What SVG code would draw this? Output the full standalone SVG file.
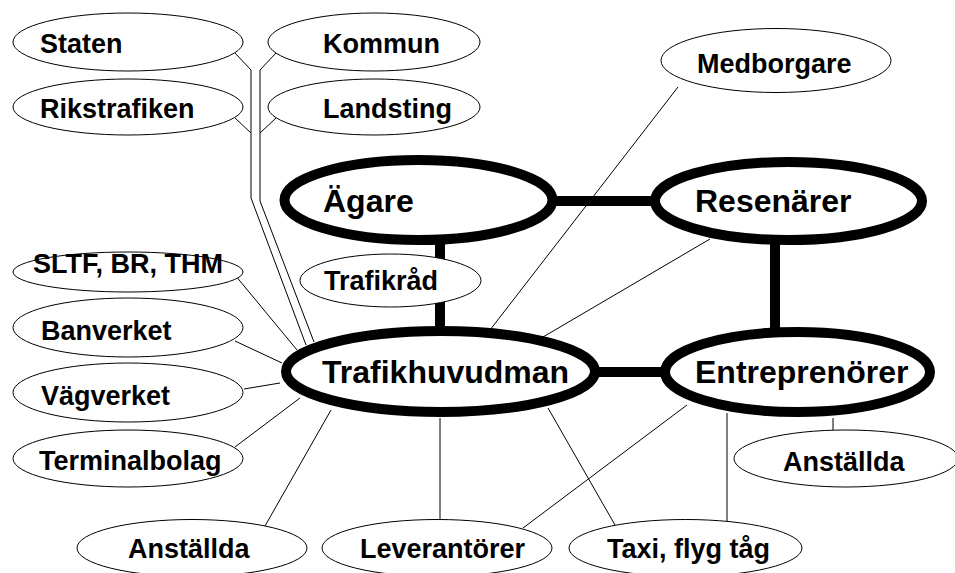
<svg xmlns="http://www.w3.org/2000/svg" width="955" height="573" viewBox="0 0 955 573">
<style>
.thin{fill:none;stroke:#000;stroke-width:1}
.thick{fill:none;stroke:#000;stroke-width:10}
.sn{fill:#fff;stroke:#000;stroke-width:1}
.mn{fill:#fff;stroke:#000;stroke-width:10}
text{font-family:"Liberation Sans",Arial,sans-serif;font-weight:bold;fill:#000}
.s{font-size:27px}
.m{font-size:32px}
</style>
<rect width="955" height="573" fill="#fff"/>
<g id="connectors">
<polyline class="thin" points="235,53 251,70 251,198 306,345"/>
<polyline class="thin" points="276,53 260,70 260,201 314,342"/>
<line class="thin" x1="235" y1="118" x2="251" y2="133"/>
<line class="thin" x1="276" y1="118" x2="260" y2="133"/>
<line class="thin" x1="235" y1="275" x2="297" y2="350"/>
<line class="thin" x1="235" y1="341" x2="282" y2="363"/>
<line class="thin" x1="244" y1="389" x2="280" y2="383"/>
<line class="thin" x1="235" y1="447" x2="300" y2="398"/>
<line class="thin" x1="265" y1="526" x2="331" y2="410"/>
<line class="thin" x1="440" y1="418" x2="440" y2="520"/>
<line class="thin" x1="548" y1="408" x2="615" y2="525"/>
<line class="thin" x1="687" y1="405" x2="523" y2="528"/>
<line class="thin" x1="727" y1="413" x2="727" y2="521"/>
<line class="thin" x1="833" y1="418" x2="833" y2="430"/>
<line class="thin" x1="678" y1="87" x2="490" y2="330"/>
<line class="thin" x1="710" y1="239" x2="543" y2="337"/>
<line class="thick" x1="552" y1="201" x2="656" y2="201"/>
<line class="thick" x1="775" y1="239" x2="775" y2="333"/>
<line class="thick" x1="440" y1="239" x2="440" y2="332"/>
<line class="thick" x1="594" y1="372" x2="666" y2="372"/>
</g>
<g id="staten"><ellipse class="sn" cx="128" cy="42" rx="115" ry="29"/><text class="s" x="40" y="53">Staten</text></g>
<g id="kommun"><ellipse class="sn" cx="374" cy="42" rx="106" ry="29"/><text class="s" x="323" y="53">Kommun</text></g>
<g id="rikstrafiken"><ellipse class="sn" cx="128" cy="107" rx="115" ry="28"/><text class="s" x="40" y="118">Rikstrafiken</text></g>
<g id="landsting"><ellipse class="sn" cx="374" cy="107" rx="106" ry="28"/><text class="s" x="323" y="118">Landsting</text></g>
<g id="medborgare"><ellipse class="sn" cx="776" cy="60.5" rx="115" ry="32"/><text class="s" x="697" y="73">Medborgare</text></g>
<g id="sltf"><ellipse class="sn" cx="128" cy="272" rx="115" ry="20"/><text class="s" x="33" y="273">SLTF, BR, THM</text></g>
<g id="banverket"><ellipse class="sn" cx="128" cy="327.5" rx="115" ry="29.5"/><text class="s" x="41" y="340">Banverket</text></g>
<g id="vagverket"><ellipse class="sn" cx="128" cy="392.5" rx="115" ry="29.5"/><text class="s" x="41" y="405">Vägverket</text></g>
<g id="terminalbolag"><ellipse class="sn" cx="128" cy="458.5" rx="115" ry="28.5"/><text class="s" x="39" y="470">Terminalbolag</text></g>
<g id="anstallda-bottom"><ellipse class="sn" cx="192" cy="548" rx="115" ry="28.5"/><text class="s" x="128" y="558">Anställda</text></g>
<g id="leverantorer"><ellipse class="sn" cx="437" cy="548" rx="115" ry="28.5"/><text class="s" x="360" y="558">Leverantörer</text></g>
<g id="taxi"><ellipse class="sn" cx="685.5" cy="548" rx="116.5" ry="28.5"/><text class="s" x="607" y="558">Taxi, flyg tåg</text></g>
<g id="anstallda-right"><ellipse class="sn" cx="846" cy="458.5" rx="112" ry="28.5"/><text class="s" x="783" y="471">Anställda</text></g>
<g id="agare"><ellipse class="mn" cx="418.5" cy="200" rx="134" ry="40"/><text class="m" x="323" y="212">Ägare</text></g>
<g id="resenarer"><ellipse class="mn" cx="788.5" cy="201" rx="133.5" ry="39"/><text class="m" x="695" y="212">Resenärer</text></g>
<g id="trafikhuvudman"><ellipse class="mn" cx="440.5" cy="371.5" rx="154.5" ry="40.5"/><text class="m" x="322" y="383">Trafikhuvudman</text></g>
<g id="entreprenorer"><ellipse class="mn" cx="797.5" cy="372" rx="132.5" ry="40"/><text class="m" x="695" y="383">Entreprenörer</text></g>
<g id="trafikrad"><ellipse class="sn" cx="390.5" cy="280.5" rx="90.5" ry="26.5"/><text class="s" x="324" y="290">Trafikråd</text></g>
</svg>
